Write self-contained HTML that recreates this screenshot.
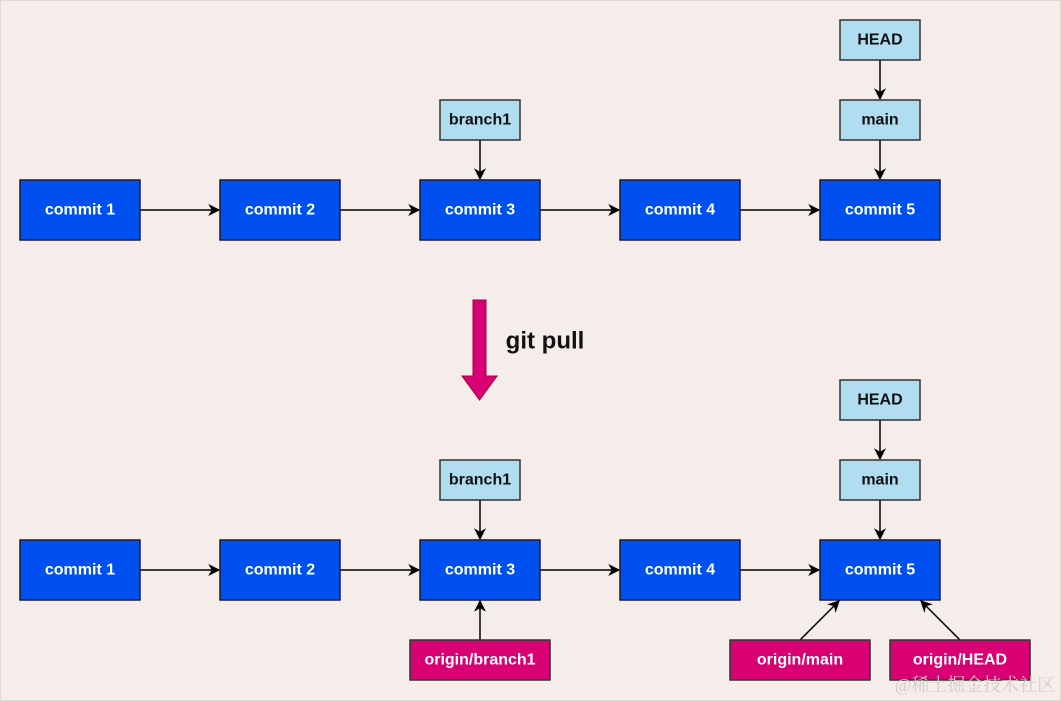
<!DOCTYPE html>
<html><head><meta charset="utf-8"><style>
html,body{margin:0;padding:0;background:#f4ede9;}
svg{display:block;}
text{font-family:"Liberation Sans",sans-serif;font-weight:bold;text-anchor:middle;dominant-baseline:central;}
</style></head><body>
<svg width="1061" height="701" viewBox="0 0 1061 701" xmlns="http://www.w3.org/2000/svg">
<defs>
<marker id="b" viewBox="0 0 10 10" refX="9" refY="5" markerWidth="12" markerHeight="12" orient="auto" markerUnits="userSpaceOnUse">
<path d="M0,0 L10,5 L0,10 L3,5 z" fill="#000"/></marker>
</defs>
<rect x="0.5" y="0.5" width="1060" height="700" fill="#f4ede9" stroke="#e2d8d4"/>
<g id="row">
<g stroke="#000" stroke-width="1.5" fill="none">
<line x1="140" y1="210" x2="219" y2="210" marker-end="url(#b)"/>
<line x1="340" y1="210" x2="419" y2="210" marker-end="url(#b)"/>
<line x1="540" y1="210" x2="619" y2="210" marker-end="url(#b)"/>
<line x1="740" y1="210" x2="819" y2="210" marker-end="url(#b)"/>
<line x1="480" y1="140" x2="480" y2="179" marker-end="url(#b)"/>
<line x1="880" y1="140" x2="880" y2="179" marker-end="url(#b)"/>
<line x1="880" y1="60" x2="880" y2="99" marker-end="url(#b)"/>
</g>
<g fill="#0050ef" stroke="#1a1a3a" stroke-width="1.5">
<rect x="20" y="180" width="120" height="60"/>
<rect x="220" y="180" width="120" height="60"/>
<rect x="420" y="180" width="120" height="60"/>
<rect x="620" y="180" width="120" height="60"/>
<rect x="820" y="180" width="120" height="60"/>
</g>
<g fill="#fff" font-size="16">
<text x="80" y="210">commit 1</text>
<text x="280" y="210">commit 2</text>
<text x="480" y="210">commit 3</text>
<text x="680" y="210">commit 4</text>
<text x="880" y="210">commit 5</text>
</g>
<g fill="#b1ddf0" stroke="#333" stroke-width="1.5">
<rect x="440" y="100" width="80" height="40"/>
<rect x="840" y="100" width="80" height="40"/>
<rect x="840" y="20" width="80" height="40"/>
</g>
<g fill="#111" font-size="16">
<text x="480" y="120">branch1</text>
<text x="880" y="120">main</text>
<text x="880" y="40">HEAD</text>
</g>
</g>
<use href="#row" y="360"/>
<path d="M473,300 H486 V376 H497 L479.5,400 L462,376 H473 Z" fill="#d80073" stroke="#a50040" stroke-width="1"/>
<text x="545" y="341" font-size="24" fill="#111">git pull</text>
<g stroke="#000" stroke-width="1.5">
<line x1="480" y1="640" x2="480" y2="601" marker-end="url(#b)"/>
<line x1="800" y1="640" x2="839" y2="601" marker-end="url(#b)"/>
<line x1="960" y1="640" x2="921" y2="601" marker-end="url(#b)"/>
</g>
<g fill="#d80073" stroke="#333" stroke-width="1.5">
<rect x="410" y="640" width="140" height="40"/>
<rect x="730" y="640" width="140" height="40"/>
<rect x="890" y="640" width="140" height="40"/>
</g>
<g fill="#fff" font-size="16">
<text x="480" y="660">origin/branch1</text>
<text x="800" y="660">origin/main</text>
<text x="960" y="660">origin/HEAD</text>
</g>
<text x="975" y="685" font-size="18" fill="#d4ccc8" style="font-weight:normal;font-family:'Liberation Serif','Noto Serif CJK SC',serif">@稀土掘金技术社区</text>
</svg>
</body></html>
